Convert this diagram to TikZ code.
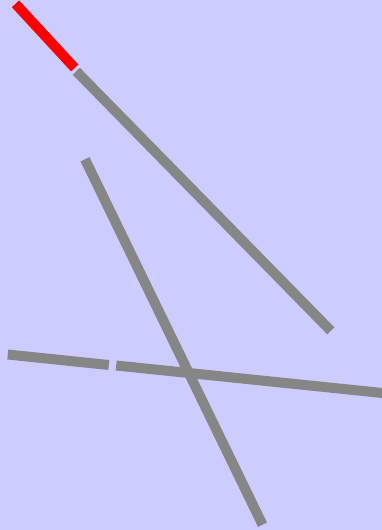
\documentclass[tikz,border=0pt]{standalone}
\definecolor{bg}{HTML}{CCCCFF}
\definecolor{bar}{HTML}{868686}
\tikzset{barline/.style={line width=10pt, color=bar, line cap=butt}}
\begin{document}
\begin{tikzpicture}[x=1pt,y=-1pt]
\fill[bg] (0,0) rectangle (382,530);
\useasboundingbox (0,0) rectangle (382,530);
\coordinate (r1) at (15.5,3.8);
\coordinate (r2) at (74.7,68);
\coordinate (a1) at (76.3,71.3);
\coordinate (a2) at (330.8,330.8);
\coordinate (b1) at (85,159.3);
\coordinate (b2) at (262.5,524.7);
\coordinate (c1) at (7.8,354.5);
\coordinate (c2) at (108.8,365);
\coordinate (c3) at (116.2,365.5);
\coordinate (c4) at (392,394);
\draw[line width=10pt, red] (r1) -- (r2);
\draw[barline] (a1) -- (a2);
\draw[barline] (b1) -- (b2);
\draw[barline] (c1) -- (c2);
\draw[barline] (c3) -- (c4);
\end{tikzpicture}
\end{document}
